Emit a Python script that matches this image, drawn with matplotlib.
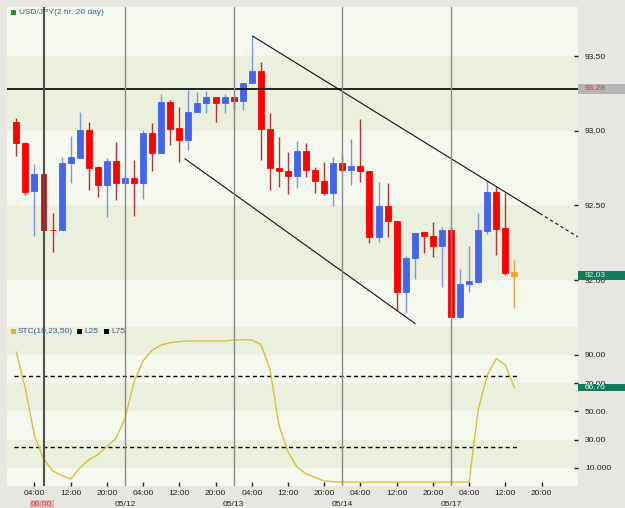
"""USD/JPY 2-hour candlestick chart with STC oscillator panel."""

import matplotlib

matplotlib.use("Agg")
import matplotlib.pyplot as plt
from matplotlib.patches import Rectangle
from matplotlib.transforms import blended_transform_factory

# --- data (2-hour bars, 05/11 00:00 .. 05/17 14:00, weekend skipped) ---
OPENS = [
    93.056, 92.920, 92.596, 92.708, 92.337, 92.335, 92.786, 92.819, 93.005, 92.755,
    92.636, 92.797, 92.652, 92.681, 92.652, 92.983, 92.849, 93.190, 93.016, 92.938,
    93.127, 93.183, 93.224, 93.183, 93.224, 93.201, 93.318, 93.400, 93.011, 92.750,
    92.732, 92.697, 92.864, 92.737, 92.663, 92.585, 92.782, 92.737, 92.764, 92.732,
    92.290, 92.498, 92.395, 91.922, 92.145, 92.324, 92.297, 92.230, 92.335, 91.754,
    91.971, 91.987, 92.330, 92.587, 92.346, 92.052,
]
HIGHS = [
    93.083, 92.925, 92.775, 92.755, 92.447, 92.822, 92.967, 93.123, 93.060, 92.764,
    92.819, 92.926, 92.681, 92.804, 93.005, 93.054, 93.246, 93.206, 93.157, 93.273,
    93.261, 93.266, 93.224, 93.246, 93.228, 93.322, 93.634, 93.458, 93.117, 92.960,
    92.859, 92.933, 92.916, 92.759, 92.792, 92.826, 92.837, 92.942, 93.076, 92.732,
    92.658, 92.652, 92.395, 92.163, 92.313, 92.324, 92.386, 92.353, 92.357, 92.072,
    92.228, 92.447, 92.663, 92.625, 92.581, 92.134,
]
LOWS = [
    92.830, 92.569, 92.295, 92.241, 92.190, 92.335, 92.648, 92.819, 92.603, 92.554,
    92.424, 92.536, 92.652, 92.429, 92.543, 92.732, 92.849, 92.904, 92.792, 92.871,
    93.127, 93.117, 93.060, 93.117, 93.139, 93.139, 93.318, 92.804, 92.603, 92.625,
    92.576, 92.614, 92.692, 92.581, 92.569, 92.496, 92.725, 92.636, 92.658, 92.246,
    92.257, 92.286, 91.800, 91.781, 92.007, 92.179, 92.156, 91.955, 91.754, 91.743,
    91.922, 91.978, 92.306, 92.167, 92.033, 91.810,
]
CLOSES = [
    92.916, 92.591, 92.708, 92.335, 92.333, 92.786, 92.822, 93.005, 92.748, 92.636,
    92.797, 92.652, 92.681, 92.652, 92.983, 92.849, 93.190, 93.013, 92.938, 93.127,
    93.183, 93.224, 93.183, 93.224, 93.201, 93.322, 93.400, 93.009, 92.748, 92.732,
    92.697, 92.864, 92.737, 92.663, 92.585, 92.782, 92.737, 92.764, 92.732, 92.290,
    92.498, 92.395, 91.922, 92.149, 92.313, 92.297, 92.230, 92.335, 91.754, 91.973,
    91.993, 92.335, 92.587, 92.342, 92.049, 92.030,
]
STC = [
    92.0, 66.0, 33.0, 16.6, 8.0, 4.7, 2.3, 9.9, 15.8, 19.4,
    25.3, 31.0, 45.0, 71.0, 85.8, 93.5, 97.0, 98.7, 99.4, 99.9,
    99.9, 99.9, 99.9, 99.9, 100.6, 100.8, 100.6, 97.5, 80.5, 40.4,
    21.6, 10.5, 6.0, 3.2, 0.8, 0.3, 0.0, 0.0, 0.0, 0.0,
    0.0, 0.0, 0.0, 0.0, 0.0, 0.0, 0.0, 0.0, 0.0, 0.0,
    0.0, 51.0, 75.6, 87.4, 83.0, 66.76,
]

SELECTED_BAR = 3
CURSOR_PRICE = 93.28
LAST_PRICE = 92.03
LAST_STC = 66.76

DAY_BREAKS = [12, 24, 36, 48]
DAY_LABELS = ["05/12", "05/13", "05/14", "05/17"]
HOUR_TICKS = list(range(2, 59, 4))
HOUR_LABELS = ["04:00", "12:00", "20:00"]

PRICE_TICKS = [92.0, 92.5, 93.0, 93.5]
PRICE_LABELS = ["92.00", "92.50", "93.00", "93.50"]
STC_TICKS = [10, 30, 50, 70, 90]
STC_TICK_LABELS = ["10.000", "30.00", "50.00", "70.00", "90.00"]
STC_LEVELS = [25, 75]

UPPER_TREND_X = [26.1, 57.8]
UPPER_TREND_Y = [93.634, 92.447]
UPPER_EXT_X = [57.8, 62.1]
UPPER_EXT_Y = [92.447, 92.286]
LOWER_TREND_X = [18.63, 44.03]
LOWER_TREND_Y = [92.812, 91.709]

# --- style ---
W, H = 625, 508
BG = "#e8e6e1"
BAND_LIGHT = "#f5f8ee"
BAND_DARK = "#ebefdd"
UP = "#4466ee"
UP_WICK = "#7f95e2"
DOWN = "#ff0000"
DOWN_WICK = "#b03636"
LEGEND_TXT = "#3d5f92"
FONT = 6

plt.rcParams["font.family"] = ["Liberation Sans", "DejaVu Sans"]


def _rect(left, top, right, bottom):
    return [left / W, 1 - bottom / H, (right - left) / W, (bottom - top) / H]


def _fig_square(fig, x, y, size, color):
    fig.add_artist(Rectangle((x / W, 1 - (y + size) / H), size / W, size / H,
                             transform=fig.transFigure, color=color, lw=0))


def _fig_text(fig, x, y, s, **kw):
    fig.text(x / W, 1 - y / H, s, va="center", fontsize=FONT, **kw)


def _value_box(ax, value, half_h, text, face, txt_color):
    trans = blended_transform_factory(ax.transAxes, ax.transData)
    right = (W - 7) / (578 - 7)
    ax.add_patch(Rectangle((1.0, value - half_h), right - 1.0, 2 * half_h,
                           transform=trans, color=face, lw=0, clip_on=False, zorder=10))
    ax.text(1.0 + 7 / 571, value, text, transform=trans, color=txt_color,
            fontsize=FONT, va="center", ha="left", clip_on=False, zorder=11)


def _style_axes(ax, ticks, labels):
    for spine in ax.spines.values():
        spine.set_visible(False)
    ax.yaxis.tick_right()
    ax.set_yticks(ticks)
    ax.set_yticklabels(labels)
    ax.tick_params(axis="y", direction="in", length=3, width=1, pad=5,
                   labelsize=FONT, colors="#222222")


def _draw_candles(ax):
    for i, (o, h, l, c) in enumerate(zip(OPENS, HIGHS, LOWS, CLOSES)):
        if i == SELECTED_BAR:
            body, wick = "#c81010", "#9eeeee"
        elif i == len(OPENS) - 1:
            body, wick = "#f7a51c", "#e2a23a"
        elif c >= o:
            body, wick = UP, UP_WICK
        else:
            body, wick = DOWN, DOWN_WICK
        ax.vlines(i, l, h, color=wick, lw=1, zorder=3)
        ax.bar(i, abs(c - o), bottom=min(o, c), width=0.66, color=body,
               edgecolor=body, lw=0.6, zorder=4)


def main():
    fig = plt.figure(figsize=(W / 100, H / 100), dpi=100, facecolor=BG)
    ax = fig.add_axes(_rect(7, 7, 578, 325))
    ax2 = fig.add_axes(_rect(7, 325, 578, 486), sharex=ax)

    ax.set_xlim(-1.03, 62.03)
    ax.set_ylim(91.699, 93.829)
    ax2.set_ylim(-2.74, 111.2)

    # background bands
    ax.set_facecolor(BAND_LIGHT)
    ax2.set_facecolor(BAND_LIGHT)
    for lo in (92.0, 93.0):
        ax.axhspan(lo, lo + 0.5, color=BAND_DARK, lw=0, zorder=0)
    for lo in (10, 50, 90):
        ax2.axhspan(lo, lo + 20, color=BAND_DARK, lw=0, zorder=0)

    # price panel
    _draw_candles(ax)
    ax.plot(UPPER_TREND_X, UPPER_TREND_Y, color="#111111", lw=0.8, zorder=5)
    ax.plot(UPPER_EXT_X, UPPER_EXT_Y, color="#111111", lw=0.8,
            ls=(0, (3, 2.5)), zorder=5)
    ax.plot(LOWER_TREND_X, LOWER_TREND_Y, color="#111111", lw=0.8, zorder=5)
    ax.axhline(CURSOR_PRICE, color="black", lw=1.2, zorder=6)

    # oscillator panel
    ax2.plot(range(len(STC)), STC, color="#d9c03e", lw=1, zorder=4)
    for level in STC_LEVELS:
        ax2.plot([-0.25, 55.3], [level, level], color="black", lw=1,
                 ls=(0, (3, 2.2)), zorder=3)

    for a in (ax, ax2):
        for x in DAY_BREAKS:
            a.axvline(x, color="#8c8c8c", lw=1, zorder=6)
        a.axvline(SELECTED_BAR + 0.05, color="#505050", lw=1.5, zorder=7)

    _style_axes(ax, PRICE_TICKS, PRICE_LABELS)
    _style_axes(ax2, STC_TICKS, STC_TICK_LABELS)
    ax.tick_params(axis="x", bottom=False, labelbottom=False)

    ax2.set_xticks(HOUR_TICKS)
    ax2.set_xticklabels([HOUR_LABELS[k % 3] for k in range(len(HOUR_TICKS))])
    ax2.tick_params(axis="x", direction="in", length=3, width=1, pad=3,
                    labelsize=FONT, colors="#222222")

    trans = blended_transform_factory(ax2.transData, ax2.transAxes)
    for x, label in zip(DAY_BREAKS, DAY_LABELS):
        ax2.text(x, -19 / 161, label, transform=trans, ha="center", va="center",
                 fontsize=FONT, color="#222222", clip_on=False)
    ax2.text(SELECTED_BAR - 0.2, -19 / 161, "06:00", transform=trans, ha="center",
             va="center", fontsize=FONT, color="#c04848", clip_on=False,
             bbox=dict(boxstyle="square,pad=0.15", fc="#e6b6b6", ec="none"))

    # value boxes on the right scale
    _value_box(ax, CURSOR_PRICE, 0.036, f"{CURSOR_PRICE:.2f}", "#b4b4b4", "#cc3b3b")
    _value_box(ax, LAST_PRICE, 0.028, f"{LAST_PRICE:.2f}", "#137a5c", "#c8f0dc")
    _value_box(ax2, LAST_STC, 2.6, f"{LAST_STC:.2f}", "#137a5c", "#e6fff4")

    # legends
    _fig_square(fig, 11, 10, 5, "#1e9a1e")
    _fig_text(fig, 19, 12.5, "USD/JPY(2 hr. 20 day)", color=LEGEND_TXT)
    _fig_square(fig, 11, 329, 5, "#d8c21a")
    _fig_text(fig, 18, 331.5, "STC(10,23,50)", color=LEGEND_TXT)
    _fig_square(fig, 77, 329, 4.5, "black")
    _fig_text(fig, 84, 331.5, "L25", color=LEGEND_TXT)
    _fig_square(fig, 104, 329, 4.5, "black")
    _fig_text(fig, 111, 331.5, "L75", color=LEGEND_TXT)

    fig.savefig("out.png", dpi=100, facecolor=BG)
    plt.close(fig)


if __name__ == "__main__":
    main()
